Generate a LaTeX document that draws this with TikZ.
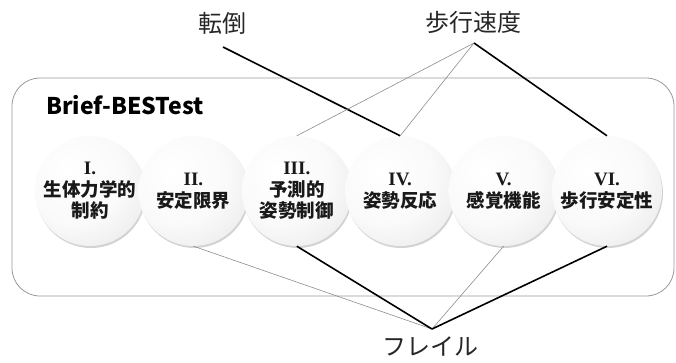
\documentclass[tikz,border=0pt]{standalone}
\usepackage{fontspec}
\newfontfamily\jp{Noto Sans CJK JP}
\newfontfamily\rnfont{Liberation Serif}
\newcommand{\rn}[1]{{\rnfont\bfseries\fontsize{19}{21.5}\selectfont #1}}
\usetikzlibrary{shadows}
\pgfdeclareradialshading{btn}{\pgfpoint{-10bp}{10bp}}{color(0bp)=(white); color(22bp)=(white!98!black); color(42bp)=(white!90!black); color(58bp)=(white!80!black); color(70bp)=(white!75!black)}
\begin{document}
\begin{tikzpicture}[x=1pt,y=-1pt,
  ball/.style={circle, minimum size=110pt, inner sep=0pt, shading=btn,
    drop shadow={opacity=0.35, shadow xshift=1pt, shadow yshift=-2pt},
    font=\jp\bfseries\fontsize{18.5}{21.5}\selectfont, align=center, text=black!90},
  thick line/.style={line width=1.6pt, black},
  thin line/.style={line width=0.6pt, black!45},
  lbl/.style={font=\jp\fontsize{24}{28}\selectfont, inner sep=0pt, text=black!85}]
\useasboundingbox (0,0) rectangle (676,362);
\node[draw=black!40, line width=0.8pt, rounded corners=28pt, minimum width=662pt, minimum height=218pt, inner sep=0pt] (frame) at (343,187) {};
\node[font=\jp\bfseries\fontsize{23}{27}\selectfont, anchor=west, inner sep=0pt] (title) at (46,105) {Brief-BESTest};
\node[lbl] (fall) at (222,23) {転倒};
\node[lbl] (speed) at (473,22) {歩行速度};
\node[lbl] (frail) at (430,346) {フレイル};
\coordinate (fallpt) at (223,47);
\coordinate (speedpt) at (474,43);
\coordinate (frailpt) at (432,329);
\node[ball] (c1) at (90,191) {\rn{I.}\\生体力学的\\制約};
\node[ball] (c2) at (193.4,191) {\rn{II.}\\安定限界};
\node[ball] (c3) at (296.8,191) {\rn{III.}\\予測的\\姿勢制御};
\node[ball] (c4) at (400.2,191) {\rn{IV.}\\姿勢反応};
\node[ball] (c5) at (503.6,191) {\rn{V.}\\感覚機能};
\node[ball] (c6) at (607,191) {\rn{VI.}\\歩行安定性};
\draw[thick line] (fallpt) -- (c4.north);
\draw[thin line] (speedpt) -- (c3.north);
\draw[thin line] (speedpt) -- (c4.north);
\draw[thick line] (speedpt) -- (c6.north);
\draw[thin line] (frailpt) -- (c2.south);
\draw[thick line] (frailpt) -- (c3.south);
\draw[thin line] (frailpt) -- (c5.south);
\draw[thick line] (frailpt) -- (c6.south);
\end{tikzpicture}
\end{document}
